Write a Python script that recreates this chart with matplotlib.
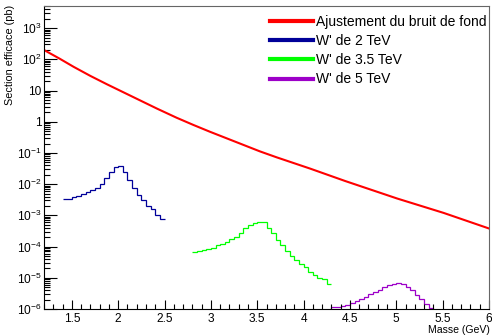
import numpy as np
import matplotlib
matplotlib.use("Agg")
import matplotlib.pyplot as plt
from matplotlib.lines import Line2D
from matplotlib.ticker import FixedLocator, FuncFormatter, MultipleLocator

plt.rcParams['font.family'] = ['Liberation Sans', 'DejaVu Sans']
plt.rcParams['mathtext.fontset'] = 'custom'
plt.rcParams['mathtext.rm'] = 'Liberation Sans'
plt.rcParams['mathtext.it'] = 'Liberation Sans'

# fit du bruit de fond (log10 de la section efficace)
fit_masse = [1.2, 1.37, 1.52, 1.70, 1.88, 2.06, 2.24, 2.42, 2.63, 2.81, 2.99,
             3.17, 3.35, 3.53, 3.71, 3.89, 4.07, 4.45, 5.01, 5.51, 6.0]
fit_log = [2.30, 2.02, 1.76, 1.47, 1.20, 0.94, 0.68, 0.42, 0.13, -0.10, -0.32,
           -0.53, -0.74, -0.95, -1.14, -1.32, -1.50, -1.90, -2.46, -2.92, -3.42]

# signaux W' (histogrammes, log10)
w2_bords = np.round(np.arange(1.4, 2.5001, 0.05), 3)
w2_log = [-2.47, -2.47, -2.42, -2.39, -2.32, -2.26, -2.19, -2.11, -2.0, -1.8, -1.6,
          -1.44, -1.43, -1.6, -1.87, -2.13, -2.35, -2.5, -2.7, -2.79, -3.0, -3.1]

w35_bords = np.round(np.arange(2.8, 4.3001, 0.05), 3)
w35_log = [-4.17, -4.15, -4.12, -4.08, -4.05, -3.96, -3.92, -3.86, -3.75, -3.68,
           -3.55, -3.42, -3.3, -3.24, -3.2, -3.22, -3.4, -3.58, -3.78, -3.95,
           -4.14, -4.3, -4.43, -4.55, -4.66, -4.8, -4.9, -5.0, -5.05, -5.2]

w5_bords = np.round(np.arange(4.25, 5.4501, 0.05), 3)
w5_log = [-6.3, -5.95, -5.92, -5.89, -5.86, -5.8, -5.75, -5.68, -5.6, -5.53, -5.45,
          -5.38, -5.31, -5.24, -5.19, -5.17, -5.19, -5.28, -5.4, -5.55, -5.68,
          -5.85, -5.97, -6.3]

labels = ["Ajustement du bruit de fond", "W' de 2 TeV", "W' de 3.5 TeV", "W' de 5 TeV"]
couleurs = ['#ff0000', '#000099', '#00ff00', '#9d00c8']

fig = plt.figure(figsize=(4.92, 3.35), dpi=100)
ax = fig.add_axes([44/492, 1-309/335, (489-44)/492, (309-6)/335])

ax.plot(fit_masse, 10**np.array(fit_log), color=couleurs[0], lw=1.5)
ax.stairs(10**np.array(w2_log), w2_bords, baseline=None, color=couleurs[1], lw=0.9)
ax.stairs(10**np.array(w35_log), w35_bords, baseline=None, color=couleurs[2], lw=0.9)
ax.stairs(10**np.array(w5_log), w5_bords, baseline=None, color=couleurs[3], lw=0.9)

ax.set_yscale('log')
ax.set_xlim(1.2, 6.0)
ax.set_ylim(1e-6, 10**3.71)

ax.xaxis.set_major_locator(MultipleLocator(0.5))
ax.xaxis.set_minor_locator(MultipleLocator(0.1))
ax.xaxis.set_major_formatter(FuncFormatter(lambda v, p: ('%g' % v)))

decades = list(range(-6, 4))
ax.yaxis.set_major_locator(FixedLocator([10.0**e for e in decades]))
mineurs = [k * 10.0**e for e in range(-6, 4) for k in range(2, 10)]
ax.yaxis.set_minor_locator(FixedLocator(mineurs))

def fmt_y(v, p):
    e = int(round(np.log10(v)))
    if e == 0:
        return '1'
    if e == 1:
        return '10'
    return r'$10^{%d}$' % e
ax.yaxis.set_major_formatter(FuncFormatter(fmt_y))

ax.tick_params(axis='x', which='major', direction='in', length=6.5, width=0.8,
               labelsize=8.6, pad=3, top=False)
ax.tick_params(axis='x', which='minor', direction='in', length=3.5, width=0.8, top=False)
ax.tick_params(axis='y', which='major', direction='in', length=9.5, width=0.8,
               labelsize=8.6, pad=2, right=False)
ax.tick_params(axis='y', which='minor', direction='in', length=4.5, width=0.8, right=False)

for s in ['top', 'right']:
    ax.spines[s].set_color('#666666')
    ax.spines[s].set_linewidth(0.8)

fig.text(10/492, 1-5/335, 'Section efficace (pb)', rotation=90, ha='center', va='top',
         fontsize=7.8)
fig.text(490/492, 1-333/335, 'Masse (GeV)', ha='right', va='baseline', fontsize=7.6)

poignees = [Line2D([0], [0], color=c, lw=3) for c in couleurs]
ax.legend(poignees, labels, loc='upper left', bbox_to_anchor=(270/492, 1-15/335),
          bbox_transform=fig.transFigure, frameon=False, fontsize=10,
          handlelength=3.1, handletextpad=0.2, labelspacing=0.37,
          borderpad=0, borderaxespad=0)

fig.savefig('out.png', dpi=100)
